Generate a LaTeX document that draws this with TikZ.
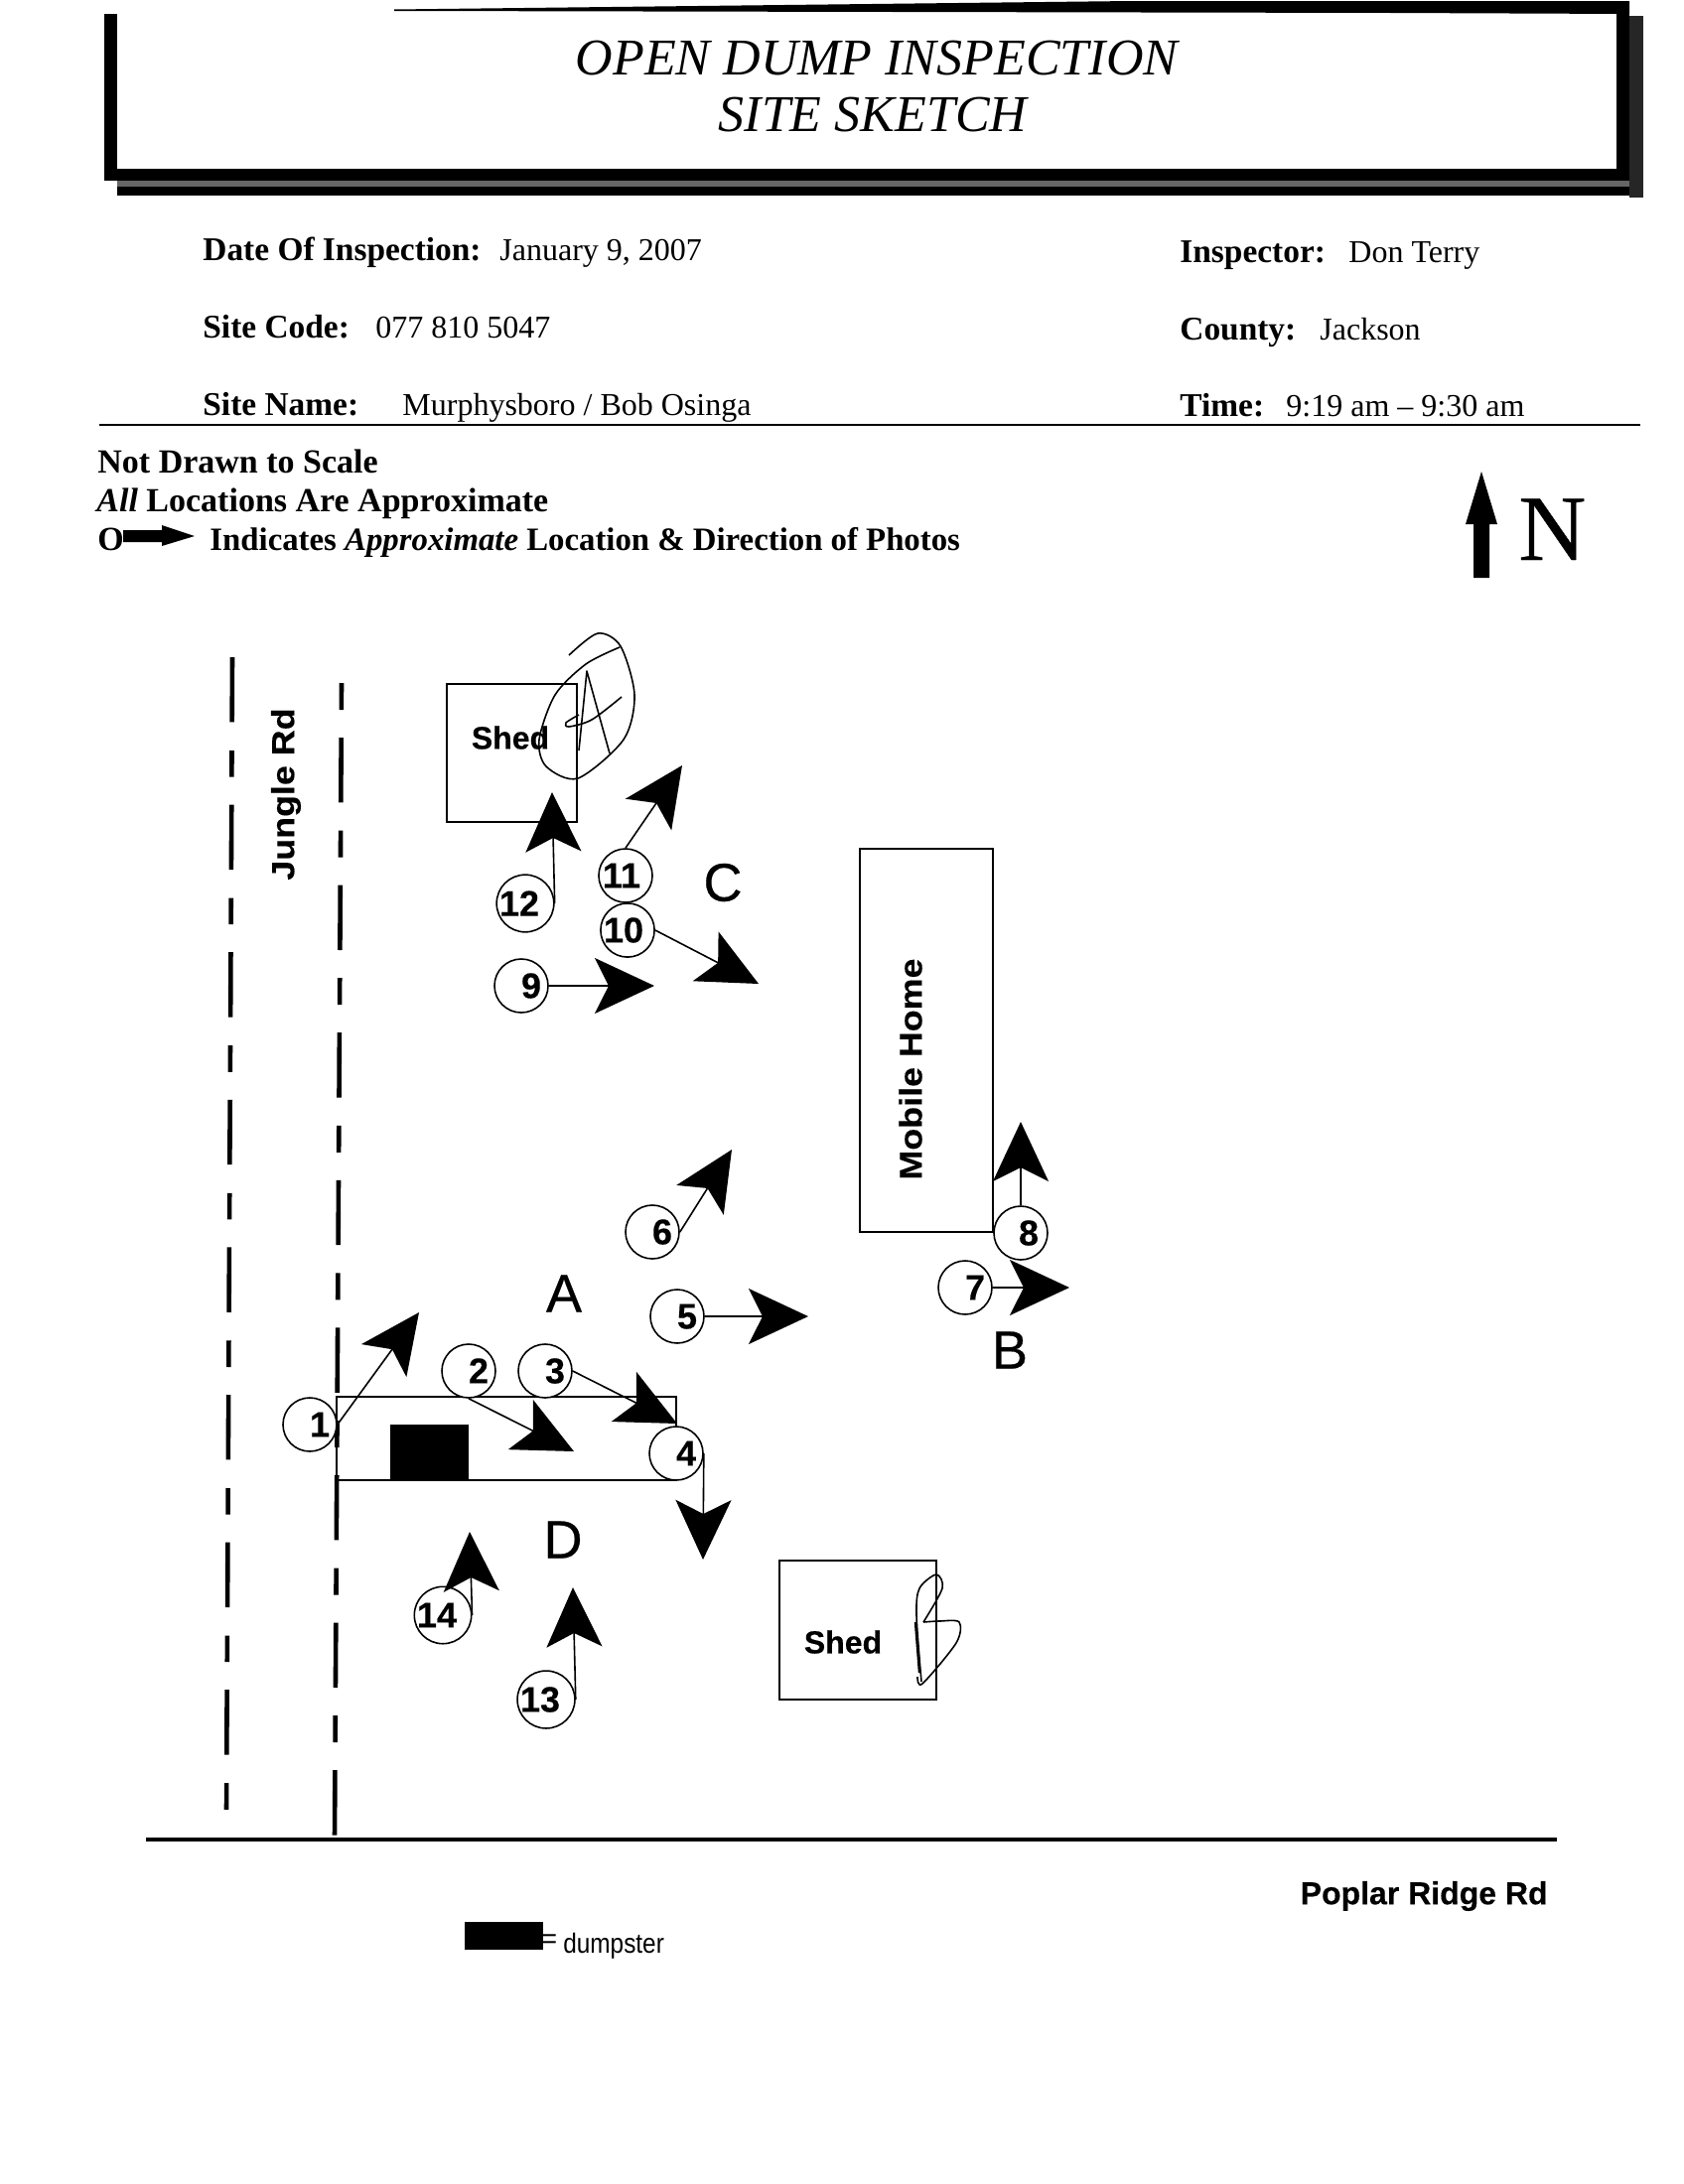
\documentclass[tikz,border=0pt]{standalone}
\usepackage{fontspec}
\setmainfont{Liberation Serif}
\setsansfont{Liberation Sans}
\usetikzlibrary{arrows.meta}

\tikzset{
  numcirc/.style={circle, draw, thick, fill=white, minimum size=27pt, inner sep=0pt, font=\sffamily\bfseries\fontsize{18pt}{18pt}\selectfont\addfontfeature{FakeBold=0.3}},
  photoarrow/.style={thick, -{Stealth[length=30pt, width=28pt, inset=7pt]}},
  building/.style={draw, thick},
  formlabel/.style={anchor=base west, inner sep=0pt, font=\bfseries\fontsize{16.7pt}{16.7pt}\selectfont},
  formvalue/.style={anchor=base west, inner sep=0pt, font=\fontsize{16pt}{16pt}\selectfont},
  notelabel/.style={anchor=base west, inner sep=0pt, font=\bfseries\fontsize{17pt}{17pt}\selectfont},
  roomlabel/.style={font=\sffamily\bfseries\fontsize{16pt}{16pt}\selectfont\addfontfeature{FakeBold=0.3}, inner sep=0pt},
  widelabel/.style={font=\sffamily\bfseries\fontsize{16pt}{16pt}\selectfont\addfontfeature{FakeStretch=1.12, FakeBold=0.3}, inner sep=0pt},
  arealabel/.style={font=\sffamily\fontsize{27pt}{27pt}\selectfont\addfontfeature{FakeBold=0.5}, inner sep=0pt},
  titletext/.style={font=\itshape\fontsize{26pt}{26pt}\selectfont, inner sep=0pt},
  pen/.style={line width=0.8pt, line join=round},
  roadline/.style={line width=2.3pt}
}

\begin{document}
\begin{tikzpicture}[x=0.5pt, y=-0.5pt]
    \useasboundingbox (0,0) rectangle (1696,2200);

    % Rahmen
    \fill (105,14) rectangle (118,182);
    \fill (105,170) rectangle (1641,182);
    \fill (1628,1) rectangle (1641,182);
    \fill[black!60] (118,182) rectangle (1641,188);
    \fill (118,188) rectangle (1655,197);
    \fill[black!85] (1641,16) rectangle (1655,199);
    \fill (397,9.5) -- (1140,1) -- (1641,1) -- (1641,14) -- (1400,13) -- (397,11) -- cycle;

    % Titel
    \node[titletext] (title1) at (883,59) {OPEN DUMP INSPECTION};
    \node[titletext] (title2) at (879,116) {SITE SKETCH};

    % Kopfdaten
    \node[formlabel] (date) at (204,262) {Date Of Inspection:};
    \node[formvalue] (dateval) at (503,262) {January 9, 2007};
    \node[formlabel] (insp) at (1188,264) {Inspector:};
    \node[formvalue] (inspval) at (1358,264) {Don Terry};
    \node[formlabel] (code) at (204,340) {Site Code:};
    \node[formvalue] (codeval) at (378,340) {077 810 5047};
    \node[formlabel] (county) at (1188,342) {County:};
    \node[formvalue] (countyval) at (1329,342) {Jackson};
    \node[formlabel] (name) at (204,418) {Site Name:};
    \node[formvalue] (nameval) at (405,418) {Murphysboro / Bob Osinga};
    \node[formlabel] (time) at (1188,419) {Time:};
    \node[formvalue] (timeval) at (1295,419) {9:19 am -- 9:30 am};
    \draw[line width=1.3pt] (100,428) to (1652,428);

    % Hinweise
    \node[notelabel] (note1) at (98,476) {Not Drawn to Scale};
    \node[notelabel] (note2) at (97,515) {\textit{All} Locations Are Approximate};
    \node[notelabel] (note3) at (98,554) {O};
    \node[formlabel, font=\bfseries\fontsize{16.4pt}{16.4pt}\selectfont] (note4) at (211,554) {Indicates \textit{Approximate} Location \& Direction of Photos};
    \fill (124,534) -- (163,534) -- (163,529) -- (196,540) -- (163,550) -- (163,546) -- (124,546) -- cycle;

    % Norden
    \fill (1492,475) -- (1508,528) -- (1500,528) -- (1500,582) -- (1484,582) -- (1484,528) -- (1476,528) -- cycle;
    \node[inner sep=0pt, anchor=base west, font=\fontsize{47pt}{47pt}\selectfont\addfontfeature{FakeBold=0.4}] (north) at (1529,564) {N};

    % Strassen
    \draw[roadline, dash pattern=on 32.7pt off 14.3pt on 13.3pt off 14pt] (234,662) to (228,1826);
    \draw[roadline, dash pattern=on 13.5pt off 14pt on 32.7pt off 14.1pt] (344,688) to (337,1853);
    \draw[roadline] (147,1853) to (1568,1853);
    \node[widelabel, rotate=90] (jungle) at (288,800) {Jungle Rd};
    \node[roomlabel, anchor=east] (poplar) at (1559,1910) {Poplar Ridge Rd};

    % Gebaeude
    \draw[building] (450,689) rectangle (581,828);
    \node[roomlabel] (shedA) at (514,743) {Shed};
    \draw[building] (866,855) rectangle (1000,1241);
    \node[widelabel, rotate=90] (home) at (917,1077) {Mobile Home};
    \draw[building] (339,1407) rectangle (681,1491);
    \fill (393,1435) rectangle (472,1491);
    \draw[building] (785,1572) rectangle (943,1712);
    \node[roomlabel] (shedB) at (849,1654) {Shed};

    % Bereiche
    \node[arealabel] (areaA) at (568,1303) {A};
    \node[arealabel] (areaB) at (1017,1360) {B};
    \node[arealabel] (areaC) at (728,889) {C};
    \node[arealabel] (areaD) at (567,1551) {D};

    % Fotopunkte
    \node[numcirc] (c1) at (312,1435) {\phantom{0}1};
    \node[numcirc] (c2) at (472,1381) {\phantom{0}2};
    \node[numcirc] (c3) at (549,1381) {\phantom{0}3};
    \node[numcirc] (c4) at (681,1464) {\phantom{0}4};
    \node[numcirc] (c5) at (682,1326) {\phantom{0}5};
    \node[numcirc] (c6) at (657,1241) {\phantom{0}6};
    \node[numcirc] (c7) at (972,1297) {\phantom{0}7};
    \node[numcirc] (c8) at (1028,1242) {\phantom{0}8\kern2pt};
    \node[numcirc] (c9) at (525,993) {\phantom{0}9};
    \node[numcirc] (c10) at (632,937) {10\kern4pt};
    \node[numcirc] (c11) at (630,882) {11\kern4pt};
    \node[numcirc] (c12) at (529,910) {12\kern6pt};
    \node[numcirc] (c13) at (550,1712) {13\kern6pt};
    \node[numcirc] (c14) at (446,1627) {14\kern6pt};

    % Pfeilspitzen
    \coordinate (t1) at (422,1322);
    \coordinate (t2) at (578,1462);
    \coordinate (t3) at (682,1434);
    \coordinate (t4) at (708,1571);
    \coordinate (t5) at (814,1326);
    \coordinate (t6) at (737,1158);
    \coordinate (t7) at (1077,1297);
    \coordinate (t8) at (1028,1130);
    \coordinate (t9) at (659,993);
    \coordinate (t10) at (764,991);
    \coordinate (t11) at (687,771);
    \coordinate (t12) at (556,798);
    \coordinate (t13) at (577,1599);
    \coordinate (t14) at (473,1543);

    % Pfeile
    \draw[photoarrow] (c1.east) to (t1);
    \draw[photoarrow] (c2.south) to (t2);
    \draw[photoarrow] (c3.east) to (t3);
    \draw[photoarrow] (c4.east) to (t4);
    \draw[photoarrow] (c5.east) to (t5);
    \draw[photoarrow] (c6.east) to (t6);
    \draw[photoarrow] (c7.east) to (t7);
    \draw[photoarrow] (c8.north) to (t8);
    \draw[photoarrow] (c9.east) to (t9);
    \draw[photoarrow] (c10.east) to (t10);
    \draw[photoarrow] (c11.north) to (t11);
    \draw[photoarrow] (c12.east) to (t12);
    \draw[photoarrow] (c13.east) to (t13);
    \draw[photoarrow] (c14.east) to (t14);

    % Handschrift
    \draw[pen] plot[smooth] coordinates {(573,660) (602,638) (625,651) (639,700) (628,745) (582,784) (550,772) (543,745) (559,700) (590,669) (624,652)};
    \draw[pen] (583,756) to (591,676) to (614,759);
    \draw[pen] plot[smooth] coordinates {(626,702) (596,725) (573,732) (570,728) (583,720)};
    \draw[pen] plot[smooth] coordinates {(928,1694) (923,1627) (926,1600) (943,1586) (949,1600) (930,1634)};
    \draw[pen] plot[smooth] coordinates {(930,1634) (946,1633) (966,1634) (963,1655) (929,1696) (924,1689)};
    \draw[line width=1.2pt] (922,1634) to (926,1685);

    % Legende
    \fill (468,1936) rectangle (547,1964);
    \node[inner sep=0pt, font=\sffamily\fontsize{14pt}{14pt}\selectfont] (legendeq) at (553,1956) {=};
    \node[inner sep=0pt, anchor=base west, xscale=0.87, font=\sffamily\fontsize{14pt}{14pt}\selectfont] (legend) at (567,1967) {dumpster};
\end{tikzpicture}
\end{document}
